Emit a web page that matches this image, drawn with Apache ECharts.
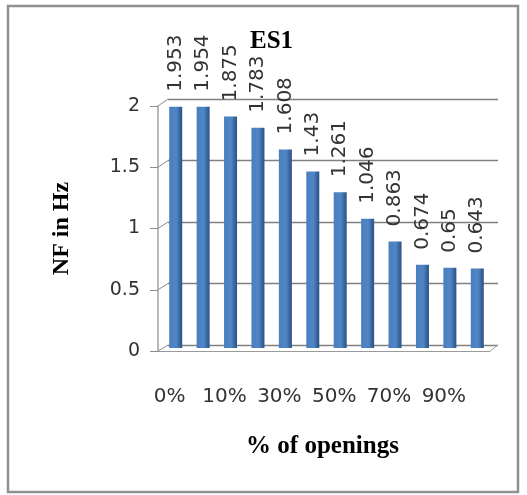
<!DOCTYPE html>
<html>
<head>
<meta charset="utf-8">
<script src="https://cdn.jsdelivr.net/npm/echarts@6/dist/echarts.min.js"></script>
<style>
  html, body { margin: 0; padding: 0; background: #ffffff; }
  #chart { width: 527px; height: 495px; }
</style>
</head>
<body>
<div id="chart"></div>
<script>
// Natural frequency of ES1 against the share of wall openings
const categories = ['0%', '5%', '10%', '20%', '30%', '40%', '50%', '60%', '70%', '80%', '90%', '100%'];
const frequencies = [1.953, 1.954, 1.875, 1.783, 1.608, 1.43, 1.261, 1.046, 0.863, 0.674, 0.65, 0.643];
const axisMin = 0;
const axisMax = 2;
const axisStep = 0.5;

const titleText = 'ES1';
const xAxisTitle = '% of openings';
const yAxisTitle = 'NF in Hz';

const serif = '"Liberation Serif", "Times New Roman", serif';
const sans = '"DejaVu Sans", sans-serif';

const chart = echarts.init(document.getElementById('chart'), null, { renderer: 'canvas' });

// three stacked grids imitate the 3-D look: bars, back wall, front axis
const FRONT = { left: 158, right: 37, top: 106, bottom: 144 };
const BACK = { left: 168, right: 29, top: 99, bottom: 150 };
const BARS = { left: 162, right: 36, top: 101, bottom: 147 };

const barFill = new echarts.graphic.LinearGradient(0, 0, 1, 0, [
  { offset: 0, color: '#4a7ebf' },
  { offset: 0.55, color: '#5086c6' },
  { offset: 0.78, color: '#3b6aa3' },
  { offset: 1, color: '#2b5286' }
]);

const option = {
  animation: false,
  backgroundColor: '#ffffff',
  title: {
    text: titleText,
    left: 250,
    top: 29,
    padding: 0,
    textStyle: { fontFamily: serif, fontWeight: 'bold', fontSize: 25, color: '#000' }
  },
  grid: [
    Object.assign({ containLabel: false }, BARS),
    Object.assign({ containLabel: false }, BACK),
    Object.assign({ containLabel: false }, FRONT)
  ],
  xAxis: [
    {
      gridIndex: 0,
      type: 'category',
      data: categories,
      axisLine: { show: false },
      axisTick: { show: false },
      axisLabel: {
        interval: 1,
        margin: 39,
        padding: [0, 12, 0, 0],
        fontFamily: sans,
        fontSize: 20,
        color: '#333'
      },
      name: xAxisTitle,
      nameLocation: 'middle',
      nameGap: 86,
      nameTextStyle: { fontFamily: serif, fontWeight: 'bold', fontSize: 25, color: '#000', padding: [0, 8, 0, 0] }
    },
    {
      gridIndex: 1,
      type: 'category',
      data: categories,
      show: false
    },
    {
      gridIndex: 2,
      type: 'category',
      data: categories,
      axisLine: { show: true, lineStyle: { color: '#9a9a9a', width: 1 } },
      axisTick: { show: false },
      axisLabel: { show: false }
    }
  ],
  yAxis: [
    {
      gridIndex: 0,
      type: 'value',
      min: axisMin, max: axisMax, interval: axisStep,
      show: false
    },
    {
      gridIndex: 1,
      type: 'value',
      min: axisMin, max: axisMax, interval: axisStep,
      axisLine: { show: false },
      axisTick: { show: false },
      axisLabel: { show: false },
      splitLine: { show: true, lineStyle: { color: '#808080', width: 1.3 } }
    },
    {
      gridIndex: 2,
      type: 'value',
      min: axisMin, max: axisMax, interval: axisStep,
      axisLine: { show: true, lineStyle: { color: '#a0a0a0', width: 1.5 } },
      axisTick: { show: true, length: 8, lineStyle: { color: '#8a8a8a' } },
      splitLine: { show: false },
      axisLabel: {
        margin: 18,
        padding: [9, 0, 0, 0],
        fontFamily: sans,
        fontSize: 19,
        color: '#333'
      },
      name: yAxisTitle,
      nameLocation: 'middle',
      nameGap: 84,
      nameTextStyle: { fontFamily: serif, fontWeight: 'bold', fontSize: 24, color: '#000' }
    }
  ],
  series: [
    {
      type: 'bar',
      xAxisIndex: 0,
      yAxisIndex: 0,
      data: frequencies,
      barWidth: 13,
      itemStyle: { color: barFill },
      label: {
        show: true,
        position: 'top',
        distance: 15,
        rotate: 90,
        align: 'left',
        verticalAlign: 'middle',
        fontFamily: sans,
        fontSize: 20,
        color: '#333'
      },
      z: 3
    }
  ]
};

chart.setOption(option);

// diagonal connectors between the front axis and the back wall, plus the frame
const W = 527, H = 495;
const extras = [];
const steps = [];
for (let v = axisMin; v <= axisMax + 1e-9; v += axisStep) steps.push(v);
steps.forEach(function (v) {
  const yf = chart.convertToPixel({ yAxisIndex: 2 }, v);
  const yb = chart.convertToPixel({ yAxisIndex: 1 }, v);
  extras.push({
    type: 'line',
    shape: { x1: FRONT.left, y1: yf, x2: BACK.left, y2: yb },
    style: { stroke: '#8a8a8a', lineWidth: 1 },
    silent: true
  });
});
{
  const yf0 = chart.convertToPixel({ yAxisIndex: 2 }, axisMin);
  const yb0 = chart.convertToPixel({ yAxisIndex: 1 }, axisMin);
  extras.push({
    type: 'line',
    shape: { x1: W - FRONT.right, y1: yf0, x2: W - BACK.right, y2: yb0 },
    style: { stroke: '#9a9a9a', lineWidth: 1 },
    silent: true
  });
}
extras.push({
  type: 'rect',
  shape: { x: 8, y: 6, width: 510, height: 486 },
  style: { fill: 'none', stroke: '#8f8f8f', lineWidth: 2.5 },
  silent: true
});
chart.setOption({ graphic: extras });
</script>
</body>
</html>
